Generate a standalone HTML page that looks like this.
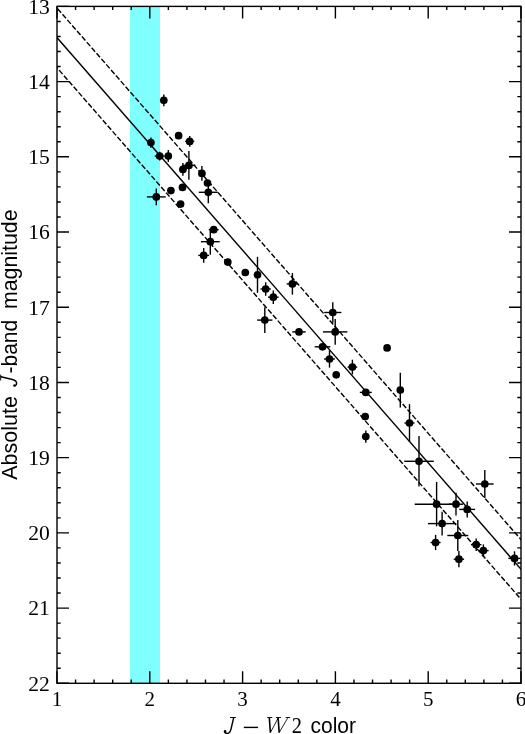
<!DOCTYPE html><html><head><meta charset="utf-8"><style>html,body{margin:0;padding:0;background:#fff;}svg{display:block;will-change:transform}.n{font-family:"Liberation Serif",serif;font-size:20px;fill:#000}.s{font-family:"Liberation Sans",sans-serif;fill:#000}.i{font-family:"Liberation Serif",serif;font-style:italic;fill:#000}</style></head><body>
<svg width="525" height="734" viewBox="0 0 525 734">
<rect x="0" y="0" width="525" height="734" fill="#fff"/>
<rect x="130" y="6.4" width="30" height="676.9" fill="#80ffff"/>
<defs><clipPath id="c"><rect x="57.0" y="6.4" width="464.0" height="676.9"/></clipPath></defs>
<g clip-path="url(#c)" fill="none" stroke="#000" stroke-width="1.4">
<line x1="37.0" y1="14.69" x2="541.0" y2="592.12"/>
<line x1="37.0" y1="-14.89" x2="541.0" y2="562.54" stroke-dasharray="5.3 2.09" stroke-dashoffset="5.6"/>
<line x1="37.0" y1="44.77" x2="541.0" y2="622.20" stroke-dasharray="5.3 2.09" stroke-dashoffset="3.32"/>
</g>
<g stroke="#000" stroke-width="1.4" fill="#000">
<line x1="163.8" y1="94.4" x2="163.8" y2="106.2"/>
<circle cx="163.8" cy="100.3" r="3.85" stroke="none"/>
<circle cx="178.6" cy="135.7" r="3.85" stroke="none"/>
<line x1="185.1" y1="141.4" x2="194.3" y2="141.4"/>
<line x1="189.7" y1="136.0" x2="189.7" y2="146.8"/>
<circle cx="189.7" cy="141.4" r="3.85" stroke="none"/>
<line x1="150.9" y1="137.5" x2="150.9" y2="147.7"/>
<circle cx="150.9" cy="142.6" r="3.85" stroke="none"/>
<line x1="154.8" y1="156.1" x2="164.6" y2="156.1"/>
<line x1="159.7" y1="151.8" x2="159.7" y2="160.4"/>
<circle cx="159.7" cy="156.1" r="3.85" stroke="none"/>
<line x1="168.3" y1="150.1" x2="168.3" y2="162.1"/>
<circle cx="168.3" cy="156.1" r="3.85" stroke="none"/>
<line x1="182.4" y1="165.4" x2="195.4" y2="165.4"/>
<line x1="188.9" y1="151.1" x2="188.9" y2="179.7"/>
<circle cx="188.9" cy="165.4" r="3.85" stroke="none"/>
<line x1="178.9" y1="169.4" x2="186.9" y2="169.4"/>
<line x1="182.9" y1="163.1" x2="182.9" y2="175.7"/>
<circle cx="182.9" cy="169.4" r="3.85" stroke="none"/>
<line x1="201.9" y1="166.0" x2="201.9" y2="180.8"/>
<circle cx="201.9" cy="173.4" r="3.85" stroke="none"/>
<circle cx="207.5" cy="183.0" r="3.85" stroke="none"/>
<line x1="198.8" y1="192.3" x2="217.8" y2="192.3"/>
<line x1="208.3" y1="181.3" x2="208.3" y2="203.3"/>
<circle cx="208.3" cy="192.3" r="3.85" stroke="none"/>
<line x1="146.9" y1="196.9" x2="165.7" y2="196.9"/>
<line x1="156.3" y1="188.6" x2="156.3" y2="205.2"/>
<circle cx="156.3" cy="196.9" r="3.85" stroke="none"/>
<circle cx="170.9" cy="190.6" r="3.85" stroke="none"/>
<circle cx="182.5" cy="187.4" r="3.85" stroke="none"/>
<circle cx="180.6" cy="204.1" r="3.85" stroke="none"/>
<line x1="208.8" y1="229.7" x2="218.6" y2="229.7"/>
<circle cx="213.7" cy="229.7" r="3.85" stroke="none"/>
<line x1="200.9" y1="241.7" x2="219.7" y2="241.7"/>
<line x1="210.3" y1="228.7" x2="210.3" y2="254.7"/>
<circle cx="210.3" cy="241.7" r="3.85" stroke="none"/>
<line x1="198.3" y1="255.4" x2="209.1" y2="255.4"/>
<line x1="203.7" y1="248.0" x2="203.7" y2="262.8"/>
<circle cx="203.7" cy="255.4" r="3.85" stroke="none"/>
<circle cx="227.8" cy="262.1" r="3.85" stroke="none"/>
<circle cx="245.3" cy="272.5" r="3.85" stroke="none"/>
<line x1="257.5" y1="256.8" x2="257.5" y2="292.8"/>
<circle cx="257.5" cy="274.8" r="3.85" stroke="none"/>
<line x1="260.5" y1="289.0" x2="270.9" y2="289.0"/>
<line x1="265.7" y1="282.3" x2="265.7" y2="295.7"/>
<circle cx="265.7" cy="289.0" r="3.85" stroke="none"/>
<line x1="268.0" y1="297.2" x2="278.6" y2="297.2"/>
<line x1="273.3" y1="290.5" x2="273.3" y2="303.9"/>
<circle cx="273.3" cy="297.2" r="3.85" stroke="none"/>
<line x1="286.7" y1="283.9" x2="298.1" y2="283.9"/>
<line x1="292.4" y1="273.1" x2="292.4" y2="294.7"/>
<circle cx="292.4" cy="283.9" r="3.85" stroke="none"/>
<line x1="257.2" y1="320.1" x2="272.4" y2="320.1"/>
<line x1="264.8" y1="307.2" x2="264.8" y2="333.0"/>
<circle cx="264.8" cy="320.1" r="3.85" stroke="none"/>
<line x1="292.3" y1="331.9" x2="305.7" y2="331.9"/>
<circle cx="299.0" cy="331.9" r="3.85" stroke="none"/>
<line x1="324.2" y1="312.5" x2="341.4" y2="312.5"/>
<line x1="332.8" y1="302.2" x2="332.8" y2="322.8"/>
<circle cx="332.8" cy="312.5" r="3.85" stroke="none"/>
<line x1="323.0" y1="331.9" x2="347.4" y2="331.9"/>
<line x1="335.2" y1="319.0" x2="335.2" y2="344.8"/>
<circle cx="335.2" cy="331.9" r="3.85" stroke="none"/>
<line x1="314.7" y1="346.8" x2="330.3" y2="346.8"/>
<circle cx="322.5" cy="346.8" r="3.85" stroke="none"/>
<line x1="324.1" y1="359.0" x2="334.9" y2="359.0"/>
<line x1="329.5" y1="350.4" x2="329.5" y2="367.6"/>
<circle cx="329.5" cy="359.0" r="3.85" stroke="none"/>
<line x1="347.6" y1="367.1" x2="357.2" y2="367.1"/>
<line x1="352.4" y1="359.7" x2="352.4" y2="374.5"/>
<circle cx="352.4" cy="367.1" r="3.85" stroke="none"/>
<circle cx="336.2" cy="374.8" r="3.85" stroke="none"/>
<circle cx="387.1" cy="347.9" r="3.85" stroke="none"/>
<line x1="359.8" y1="392.4" x2="371.8" y2="392.4"/>
<circle cx="365.8" cy="392.4" r="3.85" stroke="none"/>
<line x1="400.3" y1="372.8" x2="400.3" y2="407.4"/>
<circle cx="400.3" cy="390.1" r="3.85" stroke="none"/>
<circle cx="365.2" cy="416.6" r="3.85" stroke="none"/>
<line x1="365.8" y1="430.4" x2="365.8" y2="442.8"/>
<circle cx="365.8" cy="436.6" r="3.85" stroke="none"/>
<line x1="404.5" y1="423.0" x2="414.5" y2="423.0"/>
<line x1="409.5" y1="404.2" x2="409.5" y2="441.8"/>
<circle cx="409.5" cy="423.0" r="3.85" stroke="none"/>
<line x1="404.2" y1="461.3" x2="433.8" y2="461.3"/>
<line x1="419.0" y1="436.1" x2="419.0" y2="486.5"/>
<circle cx="419.0" cy="461.3" r="3.85" stroke="none"/>
<line x1="414.7" y1="504.2" x2="458.5" y2="504.2"/>
<line x1="436.6" y1="482.0" x2="436.6" y2="526.4"/>
<circle cx="436.6" cy="504.2" r="3.85" stroke="none"/>
<line x1="449.0" y1="504.2" x2="463.0" y2="504.2"/>
<line x1="456.0" y1="492.8" x2="456.0" y2="515.6"/>
<circle cx="456.0" cy="504.2" r="3.85" stroke="none"/>
<line x1="459.3" y1="509.4" x2="475.1" y2="509.4"/>
<line x1="467.2" y1="501.4" x2="467.2" y2="517.4"/>
<circle cx="467.2" cy="509.4" r="3.85" stroke="none"/>
<line x1="476.0" y1="484.0" x2="493.6" y2="484.0"/>
<line x1="484.8" y1="469.9" x2="484.8" y2="498.1"/>
<circle cx="484.8" cy="484.0" r="3.85" stroke="none"/>
<line x1="428.0" y1="523.6" x2="456.2" y2="523.6"/>
<line x1="442.1" y1="511.8" x2="442.1" y2="535.4"/>
<circle cx="442.1" cy="523.6" r="3.85" stroke="none"/>
<line x1="447.3" y1="535.5" x2="468.3" y2="535.5"/>
<line x1="457.8" y1="520.0" x2="457.8" y2="551.0"/>
<circle cx="457.8" cy="535.5" r="3.85" stroke="none"/>
<line x1="430.6" y1="542.5" x2="440.6" y2="542.5"/>
<line x1="435.6" y1="534.9" x2="435.6" y2="550.1"/>
<circle cx="435.6" cy="542.5" r="3.85" stroke="none"/>
<line x1="471.0" y1="544.7" x2="481.4" y2="544.7"/>
<line x1="476.2" y1="538.5" x2="476.2" y2="550.9"/>
<circle cx="476.2" cy="544.7" r="3.85" stroke="none"/>
<line x1="478.2" y1="550.6" x2="488.6" y2="550.6"/>
<line x1="483.4" y1="544.4" x2="483.4" y2="556.8"/>
<circle cx="483.4" cy="550.6" r="3.85" stroke="none"/>
<line x1="453.7" y1="559.2" x2="464.1" y2="559.2"/>
<line x1="458.9" y1="551.1" x2="458.9" y2="567.3"/>
<circle cx="458.9" cy="559.2" r="3.85" stroke="none"/>
<line x1="508.3" y1="558.4" x2="520.7" y2="558.4"/>
<line x1="514.5" y1="551.3" x2="514.5" y2="565.5"/>
<circle cx="514.5" cy="558.4" r="3.85" stroke="none"/>
</g>
<path d="M57.00 683.3v-12.0M57.00 6.4v12.0M75.56 683.3v-3.7M75.56 6.4v3.7M94.12 683.3v-3.7M94.12 6.4v3.7M112.68 683.3v-3.7M112.68 6.4v3.7M131.24 683.3v-3.7M131.24 6.4v3.7M149.80 683.3v-12.0M149.80 6.4v12.0M168.36 683.3v-3.7M168.36 6.4v3.7M186.92 683.3v-3.7M186.92 6.4v3.7M205.48 683.3v-3.7M205.48 6.4v3.7M224.04 683.3v-3.7M224.04 6.4v3.7M242.60 683.3v-12.0M242.60 6.4v12.0M261.16 683.3v-3.7M261.16 6.4v3.7M279.72 683.3v-3.7M279.72 6.4v3.7M298.28 683.3v-3.7M298.28 6.4v3.7M316.84 683.3v-3.7M316.84 6.4v3.7M335.40 683.3v-12.0M335.40 6.4v12.0M353.96 683.3v-3.7M353.96 6.4v3.7M372.52 683.3v-3.7M372.52 6.4v3.7M391.08 683.3v-3.7M391.08 6.4v3.7M409.64 683.3v-3.7M409.64 6.4v3.7M428.20 683.3v-12.0M428.20 6.4v12.0M446.76 683.3v-3.7M446.76 6.4v3.7M465.32 683.3v-3.7M465.32 6.4v3.7M483.88 683.3v-3.7M483.88 6.4v3.7M502.44 683.3v-3.7M502.44 6.4v3.7M521.00 683.3v-12.0M521.00 6.4v12.0M57.0 6.40h12.0M521.0 6.40h-12.0M57.0 21.44h3.7M521.0 21.44h-3.7M57.0 36.48h3.7M521.0 36.48h-3.7M57.0 51.53h3.7M521.0 51.53h-3.7M57.0 66.57h3.7M521.0 66.57h-3.7M57.0 81.61h12.0M521.0 81.61h-12.0M57.0 96.65h3.7M521.0 96.65h-3.7M57.0 111.70h3.7M521.0 111.70h-3.7M57.0 126.74h3.7M521.0 126.74h-3.7M57.0 141.78h3.7M521.0 141.78h-3.7M57.0 156.82h12.0M521.0 156.82h-12.0M57.0 171.86h3.7M521.0 171.86h-3.7M57.0 186.91h3.7M521.0 186.91h-3.7M57.0 201.95h3.7M521.0 201.95h-3.7M57.0 216.99h3.7M521.0 216.99h-3.7M57.0 232.03h12.0M521.0 232.03h-12.0M57.0 247.08h3.7M521.0 247.08h-3.7M57.0 262.12h3.7M521.0 262.12h-3.7M57.0 277.16h3.7M521.0 277.16h-3.7M57.0 292.20h3.7M521.0 292.20h-3.7M57.0 307.24h12.0M521.0 307.24h-12.0M57.0 322.29h3.7M521.0 322.29h-3.7M57.0 337.33h3.7M521.0 337.33h-3.7M57.0 352.37h3.7M521.0 352.37h-3.7M57.0 367.41h3.7M521.0 367.41h-3.7M57.0 382.46h12.0M521.0 382.46h-12.0M57.0 397.50h3.7M521.0 397.50h-3.7M57.0 412.54h3.7M521.0 412.54h-3.7M57.0 427.58h3.7M521.0 427.58h-3.7M57.0 442.62h3.7M521.0 442.62h-3.7M57.0 457.67h12.0M521.0 457.67h-12.0M57.0 472.71h3.7M521.0 472.71h-3.7M57.0 487.75h3.7M521.0 487.75h-3.7M57.0 502.79h3.7M521.0 502.79h-3.7M57.0 517.84h3.7M521.0 517.84h-3.7M57.0 532.88h12.0M521.0 532.88h-12.0M57.0 547.92h3.7M521.0 547.92h-3.7M57.0 562.96h3.7M521.0 562.96h-3.7M57.0 578.00h3.7M521.0 578.00h-3.7M57.0 593.05h3.7M521.0 593.05h-3.7M57.0 608.09h12.0M521.0 608.09h-12.0M57.0 623.13h3.7M521.0 623.13h-3.7M57.0 638.17h3.7M521.0 638.17h-3.7M57.0 653.22h3.7M521.0 653.22h-3.7M57.0 668.26h3.7M521.0 668.26h-3.7M57.0 683.30h12.0M521.0 683.30h-12.0" stroke="#000" stroke-width="1.4" fill="none"/>
<rect x="57.0" y="6.4" width="464.00" height="676.90" fill="none" stroke="#000" stroke-width="1.4"/>
<text class="n" x="49.8" y="13.7" text-anchor="end" textLength="21.6" lengthAdjust="spacingAndGlyphs">13</text>
<text class="n" x="49.8" y="88.9" text-anchor="end" textLength="21.6" lengthAdjust="spacingAndGlyphs">14</text>
<text class="n" x="49.8" y="164.1" text-anchor="end" textLength="21.6" lengthAdjust="spacingAndGlyphs">15</text>
<text class="n" x="49.8" y="239.3" text-anchor="end" textLength="21.6" lengthAdjust="spacingAndGlyphs">16</text>
<text class="n" x="49.8" y="314.5" text-anchor="end" textLength="21.6" lengthAdjust="spacingAndGlyphs">17</text>
<text class="n" x="49.8" y="389.8" text-anchor="end" textLength="21.6" lengthAdjust="spacingAndGlyphs">18</text>
<text class="n" x="49.8" y="465.0" text-anchor="end" textLength="21.6" lengthAdjust="spacingAndGlyphs">19</text>
<text class="n" x="49.8" y="540.2" text-anchor="end" textLength="21.6" lengthAdjust="spacingAndGlyphs">20</text>
<text class="n" x="49.8" y="615.4" text-anchor="end" textLength="21.6" lengthAdjust="spacingAndGlyphs">21</text>
<text class="n" x="49.8" y="690.6" text-anchor="end" textLength="21.6" lengthAdjust="spacingAndGlyphs">22</text>
<text class="n" x="57.0" y="705.5" text-anchor="middle" textLength="10.5" lengthAdjust="spacingAndGlyphs">1</text>
<text class="n" x="149.8" y="705.5" text-anchor="middle" textLength="10.5" lengthAdjust="spacingAndGlyphs">2</text>
<text class="n" x="242.6" y="705.5" text-anchor="middle" textLength="10.5" lengthAdjust="spacingAndGlyphs">3</text>
<text class="n" x="335.4" y="705.5" text-anchor="middle" textLength="10.5" lengthAdjust="spacingAndGlyphs">4</text>
<text class="n" x="428.2" y="705.5" text-anchor="middle" textLength="10.5" lengthAdjust="spacingAndGlyphs">5</text>
<text class="n" x="521.0" y="705.5" text-anchor="middle" textLength="10.5" lengthAdjust="spacingAndGlyphs">6</text>
<g transform="matrix(1,0,0,-1,223.3,732.8)"><path d="M10.4,15.1 L7.7,3.6 C7.1,1.1 5.9,-0.6 4.0,-0.6 C2.8,-0.6 1.7,0.0 1.3,0.9" fill="none" stroke="#000" stroke-width="1.45" stroke-linecap="round"/><circle cx="1.75" cy="1.55" r="1.2" fill="#000"/><path d="M6.7,15.3 L12.6,15.3" stroke="#000" stroke-width="0.95"/></g>
<rect x="243.8" y="726.7" width="14.3" height="1.4" fill="#000"/>
<g stroke="#000" fill="none"><path d="M269.3,717.7 L270.4,732.6 M278.1,717.7 L279.2,732.6" stroke-width="1.6"/><path d="M270.4,732.6 L278.2,718.0 M279.2,732.6 L287.6,718.2" stroke-width="0.85"/><path d="M267.1,717.5 L272.3,717.5 M275.9,717.5 L281.0,717.5 M285.6,717.5 L290.2,717.5" stroke-width="0.9"/></g>
<text class="n" x="291.7" y="732.8" style="font-size:23px" textLength="10.2" lengthAdjust="spacingAndGlyphs">2</text>
<text class="s" x="310.5" y="732.8" style="font-size:22px" textLength="45.5" lengthAdjust="spacingAndGlyphs">color</text>
<g transform="rotate(-90)">
<text class="s" x="-479.7" y="16.6" style="font-size:22.5px" textLength="83.5" lengthAdjust="spacingAndGlyphs">Absolute</text>
<text class="s" x="-373.4" y="16.6" style="font-size:22.5px" textLength="53.5" lengthAdjust="spacingAndGlyphs">-band</text>
<text class="s" x="-309.0" y="16.6" style="font-size:22.5px" textLength="99.5" lengthAdjust="spacingAndGlyphs">magnitude</text>
</g>
<g transform="matrix(0,-1,-1,0,16.0,387.2)"><path d="M10.4,15.1 L7.7,3.6 C7.1,1.1 5.9,-0.6 4.0,-0.6 C2.8,-0.6 1.7,0.0 1.3,0.9" fill="none" stroke="#000" stroke-width="1.45" stroke-linecap="round"/><circle cx="1.75" cy="1.55" r="1.2" fill="#000"/><path d="M6.7,15.3 L12.6,15.3" stroke="#000" stroke-width="0.95"/></g>
</svg></body></html>
